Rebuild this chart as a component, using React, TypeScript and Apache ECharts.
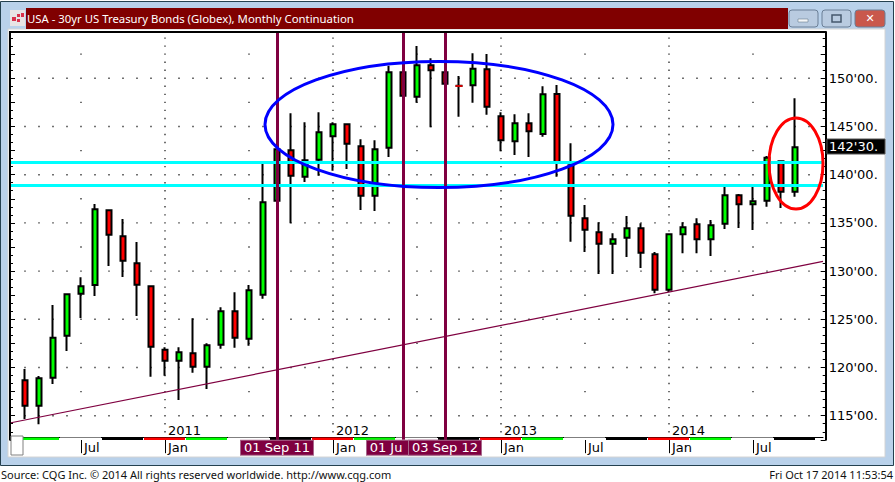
import React, { useEffect, useRef } from "react";
import * as echarts from "echarts";

const months = ["Jan","Feb","Mar","Apr","May","Jun","Jul","Aug","Sep","Oct","Nov","Dec"];
const categories = [
  "Feb 2010","Mar 2010","Apr 2010","May 2010","Jun 2010","Jul 2010","Aug 2010","Sep 2010","Oct 2010","Nov 2010","Dec 2010",
  "Jan 2011","Feb 2011","Mar 2011","Apr 2011","May 2011","Jun 2011","Jul 2011","Aug 2011","Sep 2011","Oct 2011","Nov 2011","Dec 2011",
  "Jan 2012","Feb 2012","Mar 2012","Apr 2012","May 2012","Jun 2012","Jul 2012","Aug 2012","Sep 2012","Oct 2012","Nov 2012","Dec 2012",
  "Jan 2013","Feb 2013","Mar 2013","Apr 2013","May 2013","Jun 2013","Jul 2013","Aug 2013","Sep 2013","Oct 2013","Nov 2013","Dec 2013",
  "Jan 2014","Feb 2014","Mar 2014","Apr 2014","May 2014","Jun 2014","Jul 2014","Aug 2014","Sep 2014","Oct 2014","Nov 2014","Dec 2014",
];
// One entry per month, Mar 2010 .. Oct 2014
const opens = [118.67,116.04,118.94,123.30,127.66,128.56,136.31,133.61,130.81,128.42,121.85,120.71,121.47,120.08,122.37,125.83,122.99,127.55,137.30,142.53,139.79,141.56,143.98,145.23,142.95,137.82,142.80,150.62,148.09,151.35,150.62,149.22,149.27,150.93,146.06,143.46,145.33,144.22,148.37,140.98,135.48,134.03,132.84,133.47,134.44,131.74,128.07,133.82,134.86,133.30,134.92,137.86,136.93,137.30,141.39,138.24];
const closes = [116.04,118.88,123.09,127.59,128.42,136.41,133.78,131.08,128.59,122.16,120.71,121.58,120.08,122.30,125.83,123.09,128.01,137.14,142.64,139.90,141.49,144.40,145.23,143.22,137.82,142.64,150.62,148.20,151.35,150.83,149.44,149.20,151.00,147.05,143.57,145.33,144.50,148.34,141.32,135.75,134.30,132.84,133.30,134.44,131.91,128.07,133.82,134.54,133.30,134.75,137.86,136.93,137.24,141.76,138.24,142.85];
const lows = [114.66,114.11,118.29,121.71,125.14,127.42,130.53,129.39,125.34,119.05,119.15,116.63,119.46,117.77,121.95,122.06,122.26,127.14,137.25,134.96,139.24,139.90,140.42,140.59,136.34,136.23,141.84,148.15,147.47,144.92,149.40,146.02,147.47,146.22,142.43,142.04,141.84,143.94,139.79,133.05,131.98,129.70,129.70,131.46,130.32,127.70,127.83,131.85,131.85,131.57,134.37,134.47,134.26,136.68,136.55,137.72];
const highs = [119.84,119.12,126.48,127.62,129.36,136.96,136.35,135.41,133.02,128.45,122.10,122.10,125.10,122.51,126.25,127.80,128.56,141.21,142.70,146.37,145.44,146.47,145.44,145.25,143.67,143.57,151.31,150.65,153.35,152.07,150.65,150.24,152.59,152.52,146.47,146.27,146.37,149.17,149.30,143.26,136.86,135.06,133.92,135.72,134.96,131.98,133.85,135.06,135.48,135.30,138.72,138.00,138.72,141.94,141.45,147.93];

const yTickLabels = [115, 120, 125, 130, 135, 140, 145, 150];
const supportLevels = [141.28, 138.9];
const eventMonths = ["Sep 2011", "Jun 2012", "Sep 2012"];
const eventLabels = ["01 Sep 11", "01 Ju", "03 Sep 12"];
const hiddenAxisMonths = ["Jul 2011", "Jul 2012"];
const trendStart = 114.27;
const trendEnd = 131.0;
const dojiMonth = "Oct 2012";
const dojiValue = 149.2;
const lastPriceLabel = "142'30.";
const seasonColors = ["#ff0000", "#00ff00", "#ffffff", "#000000"];

const TITLE = "USA - 30yr US Treasury Bonds (Globex), Monthly Continuation";
const SOURCE = "Source: CQG Inc. © 2014 All rights reserved worldwide. http://www.cqg.com";
const STAMP = "Fri Oct 17 2014 11:53:54";

const PURPLE = "#7f0040";
const FONT = "DejaVu Sans";
const Y_MIN = 112.5;
const Y_MAX = 154.8;

const monthOf = (c: string) => c.split(" ")[0];
const yearOf = (c: string) => c.split(" ")[1];
const seasonOf = (c: string) => Math.floor((months.indexOf(monthOf(c)) + 1) / 3) % 4;
const isAxisMonth = (c: string) => ["Jan", "Jul"].includes(monthOf(c)) && !hiddenAxisMonths.includes(c);

function buildDots() {
  const pts: [number, number][] = [];
  categories.forEach((c, i) => {
    if (i === 0 || i === categories.length - 1) return;
    const m = monthOf(c);
    if (m === "Jan") {
      for (let k = 136; k * (5 / 6) < Y_MAX; k++) pts.push([i, k * (5 / 6)]);
    } else if (m === "Jul") {
      for (let v = 115; v < Y_MAX; v += 2.5) pts.push([i, v]);
    } else {
      yTickLabels.forEach((v) => pts.push([i, v]));
    }
  });
  return pts;
}

function buildSeasons() {
  // Dec-Feb red, Mar-May green, Jun-Aug white, Sep-Nov black
  const out: [number, number, number][] = [];
  categories.forEach((c, i) => {
    if (i === 0 || i === categories.length - 1) return;
    const s = seasonOf(c);
    const endsSeason = seasonOf(categories[i + 1]) !== s ? 1 : 0;
    out.push([i, s, endsSeason]);
  });
  return out;
}

export default function App() {
  const ref = useRef<HTMLDivElement | null>(null);
  useEffect(() => {
    if (!ref.current) return;
    const chart = echarts.init(ref.current, undefined, { renderer: "svg" });
    const blank = ["-", "-", "-", "-"];
    const candleData: any[] = [blank];
    opens.forEach((o, i) => candleData.push([o, closes[i], lows[i], highs[i]]));
    candleData.push(blank, blank);

    const lastIdx = 58.2;
    const markData: any[] = [
      ...supportLevels.map((v) => [
        { coord: [0, v], lineStyle: { color: "#00ffff", width: 3, type: "solid" } },
        { coord: [lastIdx, v] },
      ]),
      [
        { coord: [0, trendStart], lineStyle: { color: PURPLE, width: 1.2, type: "solid" } },
        { coord: [lastIdx, trendEnd] },
      ],
      ...eventMonths.map((m, i) => ({
        xAxis: m,
        lineStyle: { color: PURPLE, width: 3, type: "solid" },
        label: {
          show: true,
          position: "start",
          distance: 1,
          formatter: eventLabels[i],
          color: "#ffffff",
          fontFamily: FONT,
          fontSize: 13,
          backgroundColor: PURPLE,
          borderColor: "#a8688c",
          borderWidth: 1,
          width: i === 1 ? 38 : 72,
          padding: i === 1 ? [0, 34, 0, 0] : 0,
          height: 14,
          lineHeight: 14,
          align: "center",
        },
      })),
    ];

    const btn = (x: number, w: number, fill: string) => ({
      type: "rect",
      z: -5,
      shape: { x, y: 10, width: w, height: 17, r: 3 },
      style: { fill, stroke: "#6b7f96", lineWidth: 1 },
    });

    const chrome: any[] = [
      { type: "rect", z: -10, shape: { x: 0.5, y: 1.5, width: 893, height: 464 }, style: { fill: "#b9d1ea", stroke: "#24404f", lineWidth: 1 } },
      { type: "rect", z: -9, shape: { x: 8, y: 29, width: 877, height: 428 }, style: { fill: "#ffffff", stroke: "#d4d4d4", lineWidth: 1 } },
      { type: "rect", z: -8, shape: { x: 26, y: 8, width: 762, height: 21 }, style: { fill: "#800000" } },
      { type: "rect", z: -8, shape: { x: 10, y: 10, width: 15, height: 16 }, style: { fill: "#e8e4e4" } },
      { type: "rect", z: -7, shape: { x: 12, y: 17, width: 4, height: 4 }, style: { fill: "#d8304a" } },
      { type: "rect", z: -7, shape: { x: 17, y: 14, width: 3, height: 3 }, style: { fill: "#d8304a" } },
      { type: "rect", z: -7, shape: { x: 21, y: 13, width: 3, height: 4 }, style: { fill: "#d8304a" } },
      { type: "rect", z: -7, shape: { x: 17, y: 19, width: 3, height: 3 }, style: { fill: "#d8304a" } },
      { type: "text", z: -6, x: 27, y: 18.5, style: { text: TITLE, fill: "#ffffff", font: "11.35px 'Noto Sans'", textVerticalAlign: "middle" } },
      btn(789, 29, "#b9cbe0"),
      btn(822, 29, "#b9cbe0"),
      btn(855, 30, "#c9584c"),
      { type: "rect", z: -4, shape: { x: 798, y: 19, width: 10, height: 3 }, style: { fill: "#f4f6f8", stroke: "#56687c", lineWidth: 0.5 } },
      { type: "rect", z: -4, shape: { x: 832, y: 15, width: 9, height: 7 }, style: { fill: "none", stroke: "#46586c", lineWidth: 1.5 } },
      { type: "text", z: -4, x: 870, y: 18.5, style: { text: "✕", fill: "#ffffff", font: "bold 11px 'DejaVu Sans'", textAlign: "center", textVerticalAlign: "middle" } },
      { type: "text", z: -4, x: 1, y: 474, style: { text: SOURCE, fill: "#111111", font: "11px 'Noto Sans'", textVerticalAlign: "middle" } },
      { type: "text", z: -4, x: 893, y: 474, style: { text: STAMP, fill: "#111111", font: "11px 'Noto Sans'", textAlign: "right", textVerticalAlign: "middle" } },
    ];
    const overlay: any[] = [
      { type: "line", z: 50, shape: { x1: 9, y1: 32, x2: 826, y2: 32 }, style: { stroke: "#000000", lineWidth: 2 } },
      { type: "ellipse", z: 60, shape: { cx: 439, cy: 124.5, rx: 174, ry: 63 }, style: { fill: "none", stroke: "#0000ff", lineWidth: 3 } },
      { type: "ellipse", z: 60, shape: { cx: 796, cy: 163.5, rx: 27, ry: 45.5 }, style: { fill: "none", stroke: "#ff0000", lineWidth: 3 } },
      { type: "rect", z: 70, shape: { x: 11, y: 436, width: 12, height: 19 }, style: { fill: "#ffffff", stroke: "#808080", lineWidth: 1 } },
      { type: "rect", z: 70, shape: { x: 827, y: 139, width: 58, height: 15 }, style: { fill: "#000000", stroke: "#555555", lineWidth: 1 } },
      { type: "text", z: 71, x: 829, y: 146, style: { text: lastPriceLabel, fill: "#ffffff", font: `13px '${FONT}'`, textVerticalAlign: "middle" } },
    ];

    const option: any = {
      animation: false,
      backgroundColor: "#ffffff",
      grid: { left: 11, top: 32, width: 812, height: 407.8, containLabel: false },
      graphic: { elements: [...chrome, ...overlay] },
      xAxis: [
        {
          type: "category",
          data: categories,
          boundaryGap: false,
          offset: -2.6,
          axisLine: { show: true, onZero: false, lineStyle: { color: "#000000", width: 1 } },
          axisTick: {
            show: true,
            alignWithLabel: true,
            length: 16,
            interval: (_: number, v: string) => isAxisMonth(v),
            lineStyle: { color: "#000000", width: 1 },
          },
          axisLabel: {
            show: true,
            interval: (_: number, v: string) => isAxisMonth(v),
            formatter: (v: string) => monthOf(v),
            align: "left",
            margin: 4,
            padding: [0, 0, 0, 3],
            color: "#000000",
            fontFamily: FONT,
            fontSize: 13,
          },
          splitLine: { show: false },
        },
        {
          type: "category",
          data: categories,
          boundaryGap: false,
          position: "bottom",
          offset: -2.6,
          axisLine: { show: false, onZero: false },
          axisTick: { show: false },
          axisLabel: {
            show: true,
            inside: true,
            interval: (_: number, v: string) => monthOf(v) === "Jan",
            formatter: (v: string) => yearOf(v),
            align: "left",
            margin: 0,
            padding: [0, 0, 0, 3],
            color: "#000000",
            fontFamily: FONT,
            fontSize: 13,
          },
          splitLine: { show: false },
        },
      ],
      yAxis: [
        {
          type: "value",
          position: "right",
          offset: 2.7,
          min: Y_MIN,
          max: Y_MAX,
          interval: 2.5,
          axisLine: { show: true, lineStyle: { color: "#000000", width: 2 } },
          axisTick: { show: true, inside: true, length: 5, lineStyle: { color: "#000000", width: 1 } },
          minorTick: { show: true, splitNumber: 3, length: 3, lineStyle: { color: "#000000", width: 1 } },
          axisLabel: {
            margin: 3,
            padding: [0, 0, 2, 0],
            color: "#000000",
            fontFamily: FONT,
            fontSize: 13,
            formatter: (v: number) => (yTickLabels.includes(v) ? `${v}'00.` : ""),
          },
          splitLine: { show: false },
        },
        {
          type: "value",
          position: "left",
          offset: 1,
          min: Y_MIN,
          max: Y_MAX,
          interval: 2.5,
          axisLine: { show: true, lineStyle: { color: "#000000", width: 2 } },
          axisTick: { show: true, inside: true, length: 5, lineStyle: { color: "#000000", width: 1 } },
          minorTick: { show: true, splitNumber: 3, length: 3, lineStyle: { color: "#000000", width: 1 } },
          axisLabel: { show: false },
          splitLine: { show: false },
        },
      ],
      series: [
        {
          type: "scatter",
          name: "grid dots",
          silent: true,
          z: 1,
          symbol: "rect",
          symbolSize: 1.4,
          itemStyle: { color: "#000000" },
          data: buildDots(),
        },
        {
          type: "candlestick",
          name: "30yr T-Bond",
          z: 2,
          barWidth: 5,
          data: candleData,
          itemStyle: {
            color: "#00ff00",
            color0: "#ff0000",
            borderColor: "#000000",
            borderColor0: "#000000",
            borderColorDoji: "#000000",
            borderWidth: 2,
          },
          markLine: {
            silent: true,
            symbol: "none",
            animation: false,
            label: { show: false },
            data: markData,
          },
        },
        {
          type: "scatter",
          name: "doji",
          z: 3,
          silent: true,
          symbol: "rect",
          symbolSize: [7, 2],
          itemStyle: { color: "#ff0000" },
          data: [[categories.indexOf(dojiMonth), dojiValue]],
        },
        {
          type: "custom",
          name: "season bar",
          z: 4,
          silent: true,
          clip: false,
          data: buildSeasons(),
          renderItem: (_: any, api: any) => {
            const p = api.coord([api.value(0), Y_MIN]);
            const c = seasonColors[api.value(1)];
            return {
              type: "rect",
              shape: { x: p[0] - 7, y: p[1] - 2.3, width: 14 - api.value(2), height: 2.5 },
              style: { fill: c, stroke: null },
            };
          },
        },
      ],
    };
    chart.setOption(option);
    return () => chart.dispose();
  }, []);
  return <div ref={ref} style={{ position: "fixed", left: 0, top: 0, width: 895, height: 482 }} />;
}
